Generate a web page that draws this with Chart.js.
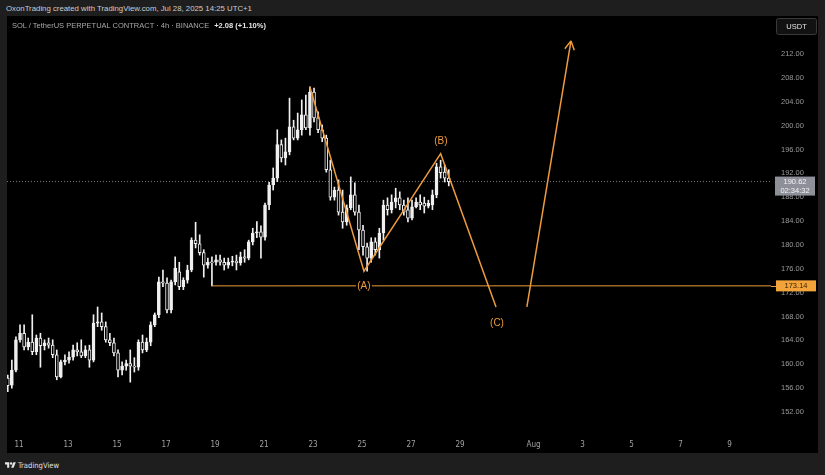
<!DOCTYPE html>
<html>
<head>
<meta charset="utf-8">
<script src="https://cdn.jsdelivr.net/npm/chart.js@4.4.1/dist/chart.umd.min.js"></script>
<style>
    html, body { margin: 0; padding: 0; width: 825px; height: 475px; overflow: hidden; background: #1e1e1e; font-family: "Liberation Sans", Arial, sans-serif; }
    #credit { position: absolute; left: 6px; top: 4px; font-size: 7.8px; color: #cdcdcd; white-space: nowrap; }
    #panel { position: absolute; left: 7px; top: 16px; width: 811px; height: 437px; background: #000; }
    #title { position: absolute; left: 12px; top: 21px; font-size: 7.5px; color: #a8a8a8; white-space: nowrap; z-index: 2; }
    #title b { color: #e6e6e6; margin-left: 3px; }
    #footer { position: absolute; left: 5px; top: 461px; font-size: 7.6px; color: #e0e0e0; white-space: nowrap; font-family: "Liberation Sans Narrow", "DejaVu Sans Condensed", sans-serif; }
    #footer svg { vertical-align: -1px; margin-right: 2px; }
</style>
</head>
<body>
<div id="credit">OxonTrading created with TradingView.com, Jul 28, 2025 14:25 UTC+1</div>
<div id="panel"><canvas id="chart" width="811" height="437"></canvas></div>
<div id="title">SOL / TetherUS PERPETUAL CONTRACT · 4h · BINANCE <b>+2.08 (+1.10%)</b></div>
<div id="footer"><svg width="11" height="8" viewBox="0 0 36 26"><path d="M14 22H7V11H0V4h14v18zM28 22h-8l7.5-18h8L28 22z" fill="#e6e6e6"/><circle cx="20" cy="8" r="4" fill="#e6e6e6"/></svg>TradingView</div>
<script>
    // 4h candles, SOL/USDT, first bar Jul 10 13:00 (day number as x)
    var first_bar = 10 + 13 / 24;
    var opens = [157.7, 156.5, 159.0, 164.1, 165.2, 162.9, 163.7, 162.1, 164.4, 163.1,
        163.6, 163.2, 161.6, 157.9, 160.4, 160.7, 161.2, 162.4, 162.1, 161.4,
        162.4, 160.7, 166.9, 167.1, 166.3, 164.1, 163.6, 161.9, 159.0, 159.7,
        160.1, 159.7, 159.5, 163.7, 162.4, 163.7, 166.6, 168.3, 173.8, 173.6,
        169.1, 173.8, 175.5, 173.0, 174.1, 175.8, 180.8, 180.2, 178.7, 176.6,
        177.1, 177.1, 177.5, 177.1, 176.6, 177.1, 177.3, 177.0, 178.0, 177.8,
        180.5, 182.0, 182.2, 181.3, 186.7, 190.05, 191.2, 196.8, 194.6, 195.6,
        199.8, 197.9, 199.3, 201.8, 199.6, 205.6, 201.3, 199.3, 197.9, 192.6,
        188.0, 189.2, 185.5, 183.85, 186.2, 188.4, 185.5, 182.5, 179.7, 177.8,
        180.5, 179.2, 182.0, 186.7, 185.9, 187.2, 187.9, 186.7, 185.9, 184.5,
        186.4, 187.2, 187.0, 186.5, 186.7, 188.4, 193.1, 192.2, 191.2];
    var highs = [158.2, 160.7, 164.6, 166.6, 166.6, 164.4, 168.3, 164.9, 165.2, 164.1,
        164.4, 164.1, 162.4, 160.7, 161.6, 162.1, 163.2, 163.6, 164.1, 163.1,
        163.2, 168.3, 169.6, 168.6, 167.1, 165.2, 164.4, 162.4, 160.4, 160.7,
        162.4, 161.1, 164.1, 164.9, 164.4, 167.1, 168.6, 174.6, 175.8, 174.5,
        174.1, 178.0, 177.1, 174.5, 176.6, 181.2, 183.8, 181.7, 179.2, 177.8,
        178.0, 178.3, 178.3, 177.8, 177.8, 178.1, 178.3, 178.8, 179.2, 180.8,
        182.8, 183.9, 183.2, 187.0, 190.5, 192.9, 199.3, 197.6, 197.9, 204.6,
        200.9, 202.1, 204.3, 205.1, 206.5, 206.3, 202.3, 200.1, 198.4, 194.2,
        189.7, 190.9, 189.2, 186.7, 191.4, 190.4, 186.7, 183.3, 180.3, 181.2,
        181.2, 182.8, 187.5, 187.9, 188.4, 189.5, 188.9, 187.5, 187.9, 187.5,
        187.9, 188.4, 188.0, 187.5, 189.2, 193.7, 194.2, 193.4, 192.6];
    var lows = [155.4, 156.0, 158.7, 163.7, 162.4, 162.4, 161.6, 161.6, 159.5, 162.4,
        162.7, 161.1, 157.4, 157.7, 159.9, 160.2, 160.7, 161.4, 161.1, 161.1,
        159.5, 160.4, 166.3, 165.7, 163.7, 163.1, 161.4, 157.9, 158.2, 159.0,
        157.0, 158.7, 159.0, 161.9, 162.1, 163.1, 166.3, 167.8, 173.0, 168.6,
        168.6, 173.3, 172.5, 172.5, 173.6, 175.5, 179.5, 178.3, 174.6, 176.1,
        173.14, 176.6, 176.6, 175.8, 176.1, 176.5, 175.8, 176.6, 177.1, 177.5,
        180.0, 181.2, 177.8, 180.8, 185.9, 189.2, 190.6, 193.9, 193.4, 195.1,
        197.6, 197.6, 198.4, 199.3, 198.4, 200.6, 198.8, 197.3, 192.2, 187.5,
        187.5, 185.0, 182.8, 183.3, 185.9, 185.0, 179.2, 178.3, 175.6, 177.1,
        178.3, 177.8, 180.8, 185.0, 185.35, 186.2, 185.9, 185.0, 183.85, 184.2,
        186.2, 185.9, 185.35, 186.2, 185.9, 187.9, 191.2, 190.55, 189.9];
    var closes = [156.4, 159.0, 164.1, 165.2, 162.9, 163.7, 162.1, 164.4, 163.1, 163.6,
        163.2, 161.6, 157.9, 160.4, 160.7, 161.2, 162.4, 162.1, 161.4, 162.4,
        160.7, 166.9, 167.1, 166.3, 164.1, 163.6, 161.9, 159.0, 159.7, 160.1,
        159.7, 159.5, 163.7, 162.4, 163.7, 166.6, 168.3, 173.8, 173.6, 169.1,
        173.8, 176.1, 173.0, 174.1, 175.8, 180.8, 180.2, 178.7, 176.6, 177.1,
        177.0, 177.5, 177.1, 176.6, 177.1, 177.3, 177.0, 178.0, 177.8, 180.5,
        182.0, 182.2, 181.3, 186.7, 190.05, 191.2, 196.8, 194.6, 195.6, 199.8,
        197.9, 199.3, 201.8, 199.6, 205.6, 201.3, 199.3, 197.9, 192.6, 188.0,
        189.2, 185.5, 183.85, 186.2, 188.4, 185.5, 182.5, 179.7, 177.8, 180.5,
        179.2, 182.0, 186.7, 185.9, 187.2, 187.9, 186.7, 185.5, 184.5, 186.4,
        187.2, 186.7, 186.5, 187.0, 188.4, 193.1, 192.1, 191.2, 190.62];

    // wave drawing (day, price)
    var wave_days = [22.87, 25.08, 28.21, 30.47];
    var wave_prices = [206.5, 175.6, 195.3, 169.6];
    var arrow_days = [31.73, 33.53];
    var arrow_prices = [169.6, 214.2];
    var wave_labels = ['(A)', '(B)', '(C)'];
    var wave_label_days = [25.08, 28.22, 30.51];
    var wave_label_prices = [173.1, 197.3, 166.9];

    var support_price = 173.14;
    var support_from = 18.87;
    var last_price = 190.62;
    var countdown = '02:34:32';

    var date_ticks = [11, 13, 15, 17, 19, 21, 23, 25, 27, 29, 32, 34, 36, 38, 40];
    var price_ticks = [152, 156, 160, 164, 168, 172, 176, 180, 184, 188, 192, 196, 200, 204, 208, 212];

    var x_min = 10.5102, x_max = 41.694;
    var y_min = 148.648, y_max = 218.369;

    var orange = '#ee9b3d';
    var white = '#f0f0f0';

    var bodies = [], wicks = [], body_colors = [];
    for (var i = 0; i < opens.length; i++) {
        var t = first_bar + i / 6;
        bodies.push({ x: t, y: [opens[i], closes[i]] });
        wicks.push({ x: t, y: [lows[i], highs[i]] });
        body_colors.push(closes[i] >= opens[i] ? white : '#000');
    }

    var overlay = {
        id: 'overlay',
        afterDatasetsDraw: function (chart) {
            var ctx = chart.ctx, xs = chart.scales.x, ys = chart.scales.y;
            ctx.save();
            // arrow head
            var x0 = xs.getPixelForValue(arrow_days[0]), y0 = ys.getPixelForValue(arrow_prices[0]);
            var x1 = xs.getPixelForValue(arrow_days[1]), y1 = ys.getPixelForValue(arrow_prices[1]);
            var ang = Math.atan2(y0 - y1, x0 - x1);
            ctx.strokeStyle = orange;
            ctx.lineWidth = 1.5;
            ctx.beginPath();
            [-0.5, 0.5].forEach(function (d) {
                ctx.moveTo(x1, y1);
                ctx.lineTo(x1 + 10 * Math.cos(ang + d), y1 + 10 * Math.sin(ang + d));
            });
            ctx.stroke();
            // wave labels
            ctx.fillStyle = orange;
            ctx.font = '10px "Liberation Sans", Arial, sans-serif';
            ctx.textAlign = 'center';
            ctx.textBaseline = 'middle';
            wave_labels.forEach(function (l, k) {
                var px = xs.getPixelForValue(wave_label_days[k]), py = ys.getPixelForValue(wave_label_prices[k]);
                if (k === 0) {
                    ctx.fillStyle = '#000';
                    ctx.fillRect(px - 8, py - 1, 16, 2);
                    ctx.fillStyle = orange;
                }
                ctx.fillText(l, px, py);
            });
            ctx.restore();
        },
        afterDraw: function (chart) {
            var ctx = chart.ctx, ys = chart.scales.y, area = chart.chartArea;
            ctx.save();
            ctx.font = '7.5px "Liberation Sans", Arial, sans-serif';
            ctx.textAlign = 'center';
            ctx.textBaseline = 'middle';
            // support label
            var sy = ys.getPixelForValue(support_price);
            ctx.strokeStyle = orange;
            ctx.lineWidth = 1;
            ctx.beginPath();
            ctx.moveTo(area.right, Math.round(sy) + 0.5);
            ctx.lineTo(770, Math.round(sy) + 0.5);
            ctx.stroke();
            ctx.fillStyle = '#f2a43a';
            ctx.fillRect(769, sy - 5.5, 40, 11);
            ctx.fillStyle = '#3b2200';
            ctx.fillText(support_price.toFixed(2), 789, sy + 0.5);
            // last price label
            var ly = ys.getPixelForValue(last_price);
            ctx.fillStyle = '#8d9099';
            ctx.fillRect(768, ly - 5, 40, 19);
            ctx.fillStyle = '#f4f4f4';
            ctx.fillText(last_price.toFixed(2), 788, ly);
            ctx.fillText(countdown, 788, ly + 9);
            // currency box
            ctx.fillStyle = '#121212';
            ctx.strokeStyle = '#3a3a3a';
            ctx.beginPath();
            ctx.roundRect(769.5, 2.5, 40, 16, 2);
            ctx.fill();
            ctx.stroke();
            ctx.fillStyle = '#e2e2e2';
            ctx.fillText('USDT', 789.5, 10.5);
            ctx.restore();
        }
    };

    var ctx = document.getElementById('chart');
    new Chart(ctx, {
        type: 'bar',
        data: {
            datasets: [
                {
                    type: 'line',
                    data: wave_days.map(function (d, k) { return { x: d, y: wave_prices[k] }; }),
                    borderColor: orange,
                    borderWidth: 1.5,
                    pointRadius: 0,
                    fill: false,
                    order: 0
                },
                {
                    type: 'line',
                    data: arrow_days.map(function (d, k) { return { x: d, y: arrow_prices[k] }; }),
                    borderColor: orange,
                    borderWidth: 1.5,
                    pointRadius: 0,
                    fill: false,
                    order: 0
                },
                {
                    type: 'line',
                    data: [{ x: support_from, y: support_price }, { x: x_max, y: support_price }],
                    borderColor: orange,
                    borderWidth: 1,
                    pointRadius: 0,
                    fill: false,
                    order: 1
                },
                {
                    data: bodies,
                    backgroundColor: body_colors,
                    borderColor: white,
                    borderWidth: 1,
                    borderSkipped: false,
                    barThickness: 3,
                    minBarLength: 1,
                    grouped: false,
                    order: 2
                },
                {
                    data: wicks,
                    backgroundColor: white,
                    borderWidth: 0,
                    barThickness: 1,
                    grouped: false,
                    order: 3
                },
                {
                    type: 'line',
                    data: [{ x: x_min, y: last_price }, { x: x_max, y: last_price }],
                    borderColor: 'rgba(150,150,150,0.8)',
                    borderWidth: 1,
                    borderDash: [1, 2],
                    pointRadius: 0,
                    fill: false,
                    order: 4
                }
            ]
        },
        options: {
            responsive: false,
            animation: false,
            layout: { padding: 0 },
            plugins: {
                legend: { display: false },
                tooltip: { enabled: false }
            },
            scales: {
                x: {
                    type: 'linear',
                    min: x_min,
                    max: x_max,
                    offset: false,
                    grid: { display: false, drawTicks: false },
                    border: { display: false },
                    afterBuildTicks: function (s) { s.ticks = date_ticks.map(function (v) { return { value: v }; }); },
                    afterFit: function (s) { s.height = 21; s.paddingLeft = 0; s.paddingRight = 0; },
                    ticks: {
                        color: '#a0a0a0',
                        padding: 8,
                        maxRotation: 0,
                        autoSkip: false,
                        font: { size: 8, family: '"Liberation Sans Narrow", "DejaVu Sans Condensed", sans-serif' },
                        callback: function (v) { return v <= 31 ? String(v) : (v === 32 ? 'Aug' : String(v - 31)); }
                    }
                },
                y: {
                    position: 'right',
                    min: y_min,
                    max: y_max,
                    grid: { display: false, drawTicks: false },
                    border: { display: false },
                    afterBuildTicks: function (s) { s.ticks = price_ticks.map(function (v) { return { value: v }; }); },
                    afterFit: function (s) { s.width = 47; s.paddingTop = 0; s.paddingBottom = 0; },
                    ticks: {
                        color: '#9a9a9a',
                        padding: 10,
                        font: { size: 7.5, family: '"Liberation Sans", Arial, sans-serif' },
                        callback: function (v) { return v.toFixed(2); }
                    }
                }
            }
        },
        plugins: [overlay]
    });
</script>
</body>
</html>
